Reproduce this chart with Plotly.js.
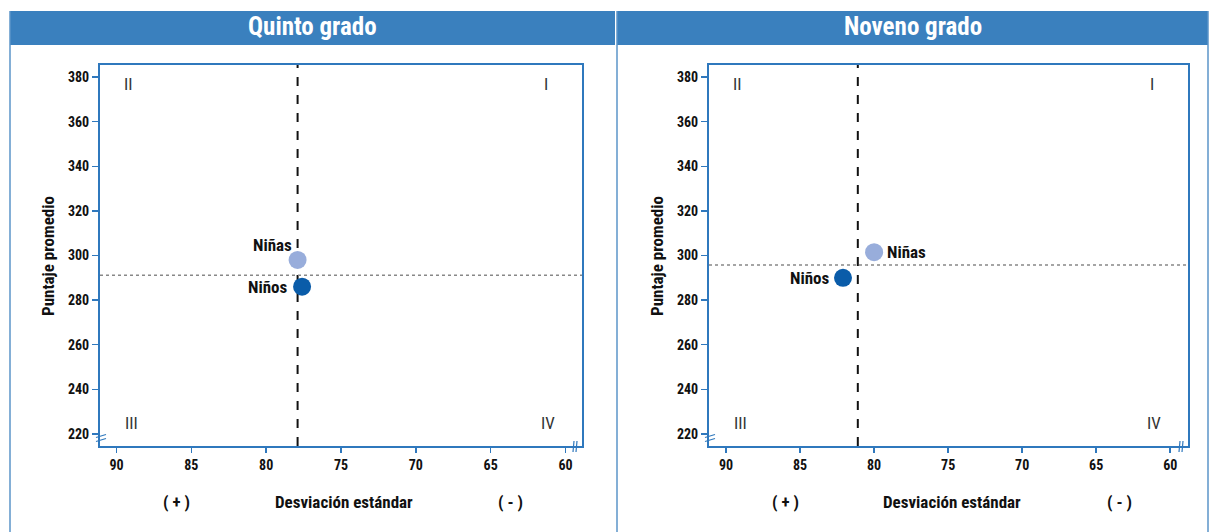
<!DOCTYPE html>
<html><head><meta charset="utf-8">
<script src="https://cdn.plot.ly/plotly-3.0.1.min.js"></script>
<style>html,body{margin:0;padding:0;background:#fff;}#chart{width:1209px;height:532px;}</style>
</head><body><div id="chart"></div>
<script>
// Data
const panelTitles = ["Quinto grado", "Noveno grado"];
const groups = ["Niñas", "Niños"];
const sdQuinto = [77.9, 77.6];
const scoreQuinto = [298, 286];
const sdNoveno = [80.0, 82.1];
const scoreNoveno = [301.5, 290];
const meanSdQuinto = 77.9, meanScoreQuinto = 291.2;
const meanSdNoveno = 81.1, meanScoreNoveno = 295.7;
const xTicks = [90, 85, 80, 75, 70, 65, 60];
const yTicks = [220, 240, 260, 280, 300, 320, 340, 360, 380];
const quadrants = ["I", "II", "III", "IV"];

const W = 1209, H = 532;
const px = v => v / W, py = v => (H - v) / H;
const FONT = "Roboto Condensed, Liberation Sans Narrow, sans-serif";
const BLUE = "#2f78bd", HEAD = "#3a80be";
const colors = ["#98addb", "#0a5ca9"];

function trace(xs, ys, xa, ya) {
  return {
    type: "scatter", mode: "markers", x: xs, y: ys, xaxis: xa, yaxis: ya,
    marker: {size: 18, color: colors}, cliponaxis: false, hoverinfo: "skip", showlegend: false
  };
}
const data = [
  trace(sdQuinto, scoreQuinto, "x", "y"),
  trace(sdNoveno, scoreNoveno, "x2", "y2")
];

const yDom = [py(446), py(65)];
function xaxis(dom, rng) {
  return {domain: dom, range: rng, tickvals: xTicks, ticktext: xTicks.map(t => "<b>" + t + "</b>"),
    ticks: "outside", ticklen: 5, tickcolor: BLUE, tickwidth: 1.5, showline: true, linecolor: BLUE, linewidth: 2,
    mirror: true, showgrid: false, zeroline: false, tickfont: {family: FONT, size: 14, color: "#111"}, fixedrange: true};
}
function yaxis(anchor) {
  return {domain: yDom, range: [214.6, 385.4], anchor: anchor, tickvals: yTicks, ticktext: yTicks.map(t => "<b>" + t + "</b>"),
    ticks: "outside", ticklen: 6, tickcolor: BLUE, tickwidth: 1.5, showline: true, linecolor: BLUE, linewidth: 2,
    mirror: true, showgrid: false, zeroline: false, tickfont: {family: FONT, size: 14, color: "#111"}, fixedrange: true};
}

const shapes = [];
const annotations = [];
// panel frames and headers
[[10, 615], [617, 1208]].forEach((p, i) => {
  shapes.push({type: "rect", xref: "paper", yref: "paper", x0: px(p[0]), x1: px(p[1]), y0: py(45), y1: py(11),
    fillcolor: HEAD, line: {width: 0}, layer: "below"});
  shapes.push({type: "line", xref: "paper", yref: "paper", x0: px(p[0]), x1: px(p[0]), y0: 0, y1: py(11),
    line: {color: "#5b95c9", width: 1.5}});
  annotations.push({xref: "paper", yref: "paper", x: (px(p[0]) + px(p[1])) / 2, y: py(27), text: "<b>" + panelTitles[i] + "</b>",
    showarrow: false, font: {family: FONT, size: 25, color: "#fff"}, xanchor: "center", yanchor: "middle"});
});
shapes.push({type: "line", xref: "paper", yref: "paper", x0: px(1208), x1: px(1208), y0: 0, y1: py(11), line: {color: "#5b95c9", width: 1.5}});

const panels = [
  {xa: "x", ya: "y", msd: meanSdQuinto, msc: meanScoreQuinto, l: 100, r: 582, xs: sdQuinto, ys: scoreQuinto,
   lab: [{xshift: -4, yshift: 15, xanchor: "right"}, {xshift: -12, yshift: 0, xanchor: "right"}]},
  {xa: "x2", ya: "y2", msd: meanSdNoveno, msc: meanScoreNoveno, l: 709, r: 1188, xs: sdNoveno, ys: scoreNoveno,
   lab: [{xshift: 11, yshift: 0, xanchor: "left"}, {xshift: -11, yshift: 0, xanchor: "right"}]}
];
panels.forEach(p => {
  const dx = p.xa === "x" ? "x domain" : "x2 domain";
  const dy = p.ya === "y" ? "y domain" : "y2 domain";
  shapes.push({type: "line", xref: p.xa, yref: dy, x0: p.msd, x1: p.msd, y0: 0, y1: 1, layer: "below", line: {color: "#111", width: 2, dash: "dash"}});
  shapes.push({type: "line", xref: dx, yref: p.ya, x0: 0, x1: 1, y0: p.msc, y1: p.msc, layer: "below", line: {color: "#888", width: 1.5, dash: "dot"}});
  // point labels
  groups.forEach((g, k) => annotations.push({xref: p.xa, yref: p.ya, x: p.xs[k], y: p.ys[k], text: "<b>" + g + "</b>",
    showarrow: false, xshift: p.lab[k].xshift, yshift: p.lab[k].yshift, xanchor: p.lab[k].xanchor, yanchor: "middle",
    font: {family: FONT, size: 17, color: "#111"}}));
  // axis break marks (y axis bottom)
  [436, 440].forEach(yy => {
    shapes.push({type: "line", xref: "paper", yref: "paper", x0: px(p.l - 4), x1: px(p.l + 6), y0: py(yy + 1.5), y1: py(yy - 1.5),
      line: {color: BLUE, width: 1.2}});
  });
  // axis break marks (x axis right)
  [p.r - 9, p.r - 6].forEach(xx => {
    shapes.push({type: "line", xref: "paper", yref: "paper", x0: px(xx), x1: px(xx + 1), y0: py(452), y1: py(441),
      line: {color: BLUE, width: 1.2}});
  });
  // quadrant labels
  const q = [["II", 0.06, 0.95], ["I", 0.925, 0.95], ["III", 0.065, 0.06], ["IV", 0.93, 0.06]];
  q.forEach(d => annotations.push({xref: dx, yref: dy, x: d[1], y: d[2], text: d[0], showarrow: false,
    font: {family: FONT, size: 17, color: "#333"}, xanchor: "center", yanchor: "middle"}));
  // axis titles
  annotations.push({xref: "paper", yref: "paper", x: px((p.l + p.r) / 2 + 3), y: py(502), text: "<b>Desviación estándar</b>",
    showarrow: false, font: {family: FONT, size: 17, color: "#111"}, xanchor: "center", yanchor: "middle"});
  annotations.push({xref: "paper", yref: "paper", x: px(p.l + 76), y: py(502), text: "<b>( + )</b>",
    showarrow: false, font: {family: FONT, size: 17, color: "#111"}, xanchor: "center", yanchor: "middle"});
  annotations.push({xref: "paper", yref: "paper", x: px(p.l + 410), y: py(502), text: "<b>( - )</b>",
    showarrow: false, font: {family: FONT, size: 17, color: "#111"}, xanchor: "center", yanchor: "middle"});
  annotations.push({xref: "paper", yref: "paper", x: px(p.l - 52), y: py(256), text: "<b>Puntaje promedio</b>", textangle: -90,
    showarrow: false, font: {family: FONT, size: 17, color: "#111"}, xanchor: "center", yanchor: "middle"});
});

const layout = {
  width: W, height: H, margin: {l: 0, r: 0, t: 0, b: 0}, paper_bgcolor: "#fff", plot_bgcolor: "#fff",
  showlegend: false,
  xaxis: xaxis([px(100), px(582)], [91.1, 58.9]),
  yaxis: yaxis("x"),
  xaxis2: Object.assign(xaxis([px(709), px(1188)], [91.15, 58.8]), {anchor: "y2"}),
  yaxis2: yaxis("x2"),
  shapes: shapes, annotations: annotations
};
layout.xaxis.anchor = "y";
Plotly.newPlot("chart", data, layout, {displayModeBar: false, staticPlot: true});
</script></body></html>
